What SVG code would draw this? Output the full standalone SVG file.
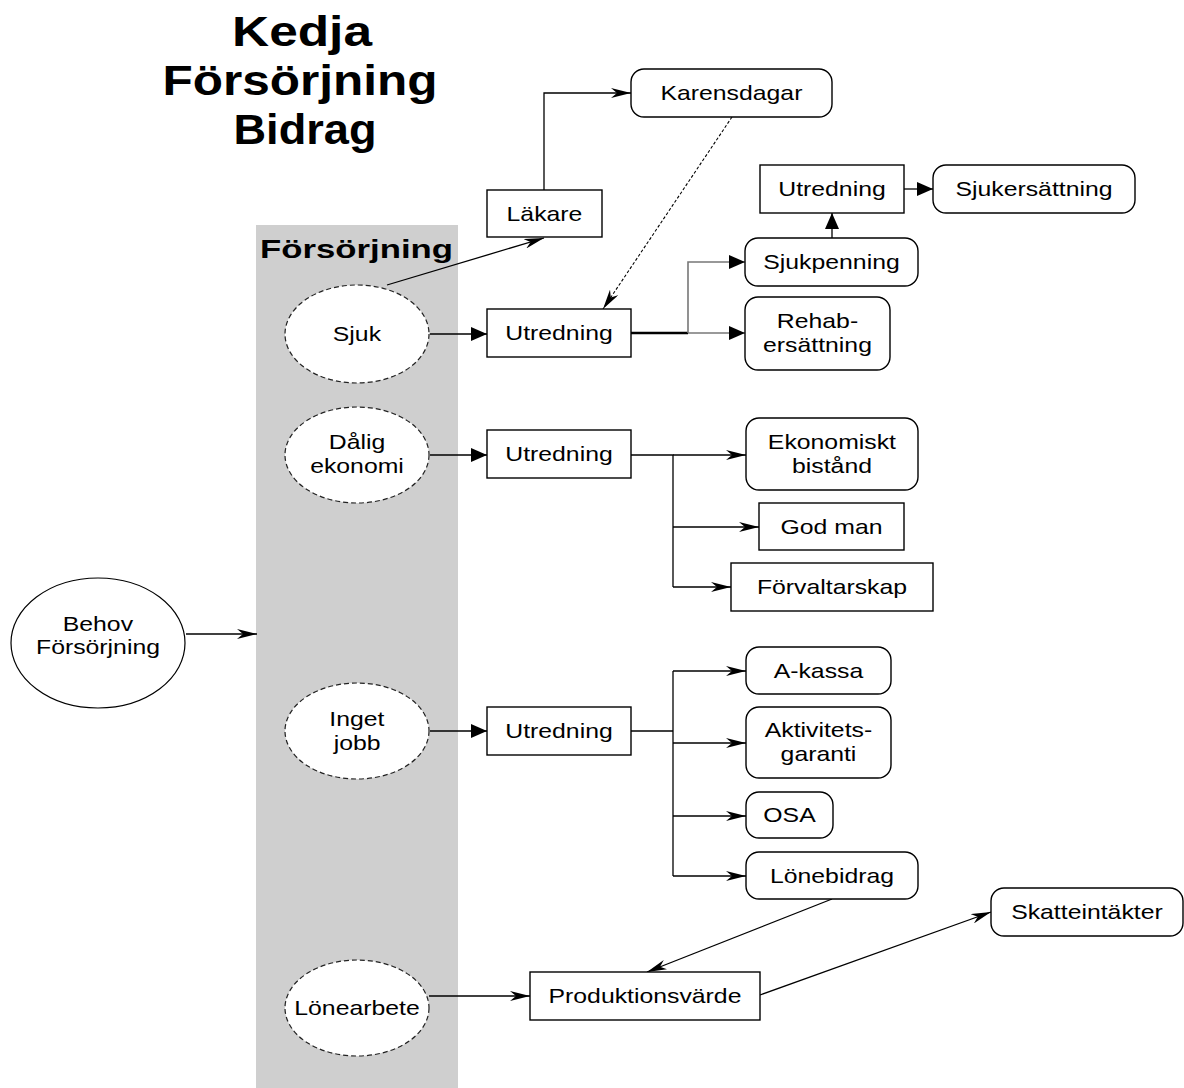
<svg xmlns="http://www.w3.org/2000/svg" width="1184" height="1088" viewBox="0 0 1184 1088">
  <style>
    .lbl { font-family: "Liberation Sans", Arial, sans-serif; font-size: 20px; fill: #000; text-anchor: middle;
           transform-box: fill-box; transform-origin: center; transform: scaleX(1.24); }
    .title { font-family: "Liberation Sans", Arial, sans-serif; font-weight: bold; font-size: 42px; fill: #000; }
    .band-title { font-family: "Liberation Sans", Arial, sans-serif; font-weight: bold; font-size: 26px; fill: #000; }
    .box { fill: #fff; stroke: #000; stroke-width: 1.4; }
    .state { fill: #fff; stroke: #222; stroke-width: 1.2; stroke-dasharray: 5 3; }
    .plain { fill: #fff; stroke: #000; stroke-width: 1.2; }
    .ln { fill: none; stroke: #000; stroke-width: 1.3; }
    .ln-grey { fill: none; stroke: #777; stroke-width: 1.6; }
    .ln-thick { fill: none; stroke: #000; stroke-width: 2.6; }
    .ln-dash { fill: none; stroke: #000; stroke-width: 1.1; stroke-dasharray: 3 2; }
  </style>
  <defs>
    <marker id="tri" markerUnits="userSpaceOnUse" markerWidth="16" markerHeight="14" viewBox="0 0 16 14" refX="16" refY="7" orient="auto">
      <path d="M0,0 L16,7 L0,14 z" fill="#000"/>
    </marker>
    <marker id="stealth" markerUnits="userSpaceOnUse" markerWidth="20" markerHeight="10" viewBox="0 0 20 10" refX="20" refY="5" orient="auto">
      <path d="M0,0 L20,5 L0,10 L6,5 z" fill="#000"/>
    </marker>
  </defs>

  <rect width="1184" height="1088" fill="#fff"/>

  <!-- heading -->
  <g id="heading">
    <text class="title" x="302" y="46" text-anchor="middle" textLength="140" lengthAdjust="spacingAndGlyphs">Kedja</text>
    <text class="title" x="300" y="95" text-anchor="middle" textLength="275" lengthAdjust="spacingAndGlyphs">Försörjning</text>
    <text class="title" x="305" y="144" text-anchor="middle" textLength="143" lengthAdjust="spacingAndGlyphs">Bidrag</text>
  </g>

  <!-- swimlane band -->
  <g id="band">
    <rect x="256" y="225" width="202" height="863" fill="#cfcfcf"/>
    <text class="band-title" x="260" y="258" textLength="193" lengthAdjust="spacingAndGlyphs">Försörjning</text>
  </g>

  <!-- connectors -->
  <g id="connectors">
    <line class="ln" x1="186" y1="634" x2="257" y2="634" marker-end="url(#stealth)"/>
    <line class="ln" x1="387" y1="285" x2="544" y2="238" marker-end="url(#stealth)"/>
    <polyline class="ln" points="544,190 544,93 631,93" marker-end="url(#stealth)"/>
    <line class="ln-dash" x1="732" y1="117" x2="603" y2="309" marker-end="url(#stealth)"/>
    <line class="ln" x1="430" y1="334" x2="487" y2="334" marker-end="url(#tri)"/>
    <line class="ln-thick" x1="631" y1="333" x2="688" y2="333"/>
    <polyline class="ln-grey" points="688,333 688,262 745,262" marker-end="url(#tri)"/>
    <line class="ln-grey" x1="688" y1="333" x2="745" y2="333" marker-end="url(#tri)"/>
    <line class="ln" x1="832" y1="238" x2="832" y2="213" marker-end="url(#tri)"/>
    <line class="ln" x1="904" y1="189" x2="933" y2="189" marker-end="url(#tri)"/>

    <line class="ln" x1="430" y1="455" x2="487" y2="455" marker-end="url(#tri)"/>
    <polyline class="ln" points="631,455 673,455 673,587"/>
    <line class="ln" x1="673" y1="455" x2="746" y2="455" marker-end="url(#stealth)"/>
    <line class="ln" x1="673" y1="527" x2="759" y2="527" marker-end="url(#stealth)"/>
    <line class="ln" x1="673" y1="587" x2="731" y2="587" marker-end="url(#stealth)"/>

    <line class="ln" x1="430" y1="731" x2="487" y2="731" marker-end="url(#tri)"/>
    <line class="ln" x1="631" y1="731" x2="673" y2="731"/>
    <line class="ln" x1="673" y1="671" x2="673" y2="876"/>
    <line class="ln" x1="673" y1="671" x2="746" y2="671" marker-end="url(#stealth)"/>
    <line class="ln" x1="673" y1="743" x2="746" y2="743" marker-end="url(#stealth)"/>
    <line class="ln" x1="673" y1="816" x2="746" y2="816" marker-end="url(#stealth)"/>
    <line class="ln" x1="673" y1="876" x2="746" y2="876" marker-end="url(#stealth)"/>

    <line class="ln" x1="832" y1="899" x2="647" y2="972" marker-end="url(#stealth)"/>
    <line class="ln" x1="429" y1="996" x2="530" y2="996" marker-end="url(#stealth)"/>
    <line class="ln" x1="760" y1="995" x2="991" y2="912" marker-end="url(#stealth)"/>
  </g>

  <!-- start node -->
  <g id="behov">
    <ellipse class="plain" cx="98" cy="643" rx="87" ry="65"/>
    <text class="lbl" x="98" y="631">Behov</text>
    <text class="lbl" x="98" y="654">Försörjning</text>
  </g>

  <!-- states inside the band -->
  <g id="sjuk">
    <ellipse class="state" cx="357" cy="334" rx="72" ry="49"/>
    <text class="lbl" x="357" y="341">Sjuk</text>
  </g>
  <g id="dalig-ekonomi">
    <ellipse class="state" cx="357" cy="455" rx="72" ry="48"/>
    <text class="lbl" x="357" y="449">Dålig</text>
    <text class="lbl" x="357" y="473">ekonomi</text>
  </g>
  <g id="inget-jobb">
    <ellipse class="state" cx="357" cy="731" rx="72" ry="48"/>
    <text class="lbl" x="357" y="726">Inget</text>
    <text class="lbl" x="357" y="750">jobb</text>
  </g>
  <g id="lonearbete">
    <ellipse class="state" cx="357" cy="1008" rx="72" ry="48"/>
    <text class="lbl" x="357" y="1015">Lönearbete</text>
  </g>

  <!-- sickness chain -->
  <g id="lakare">
    <rect class="box" x="487" y="190" width="115" height="47"/>
    <text class="lbl" x="544.5" y="221">Läkare</text>
  </g>
  <g id="karensdagar">
    <rect class="box" x="631" y="69" width="201" height="48" rx="13"/>
    <text class="lbl" x="731.5" y="100">Karensdagar</text>
  </g>
  <g id="utredning-sjuk">
    <rect class="box" x="487" y="309" width="144" height="48"/>
    <text class="lbl" x="559" y="340">Utredning</text>
  </g>
  <g id="sjukpenning">
    <rect class="box" x="745" y="238" width="173" height="48" rx="13"/>
    <text class="lbl" x="831.5" y="269">Sjukpenning</text>
  </g>
  <g id="rehab">
    <rect class="box" x="745" y="297" width="145" height="73" rx="13"/>
    <text class="lbl" x="817.5" y="328">Rehab-</text>
    <text class="lbl" x="817.5" y="352">ersättning</text>
  </g>
  <g id="utredning-sjukersattning">
    <rect class="box" x="760" y="165" width="144" height="48"/>
    <text class="lbl" x="832" y="196">Utredning</text>
  </g>
  <g id="sjukersattning">
    <rect class="box" x="933" y="165" width="202" height="48" rx="13"/>
    <text class="lbl" x="1034" y="196">Sjukersättning</text>
  </g>

  <!-- economy chain -->
  <g id="utredning-ekonomi">
    <rect class="box" x="487" y="430" width="144" height="48"/>
    <text class="lbl" x="559" y="461">Utredning</text>
  </g>
  <g id="ekonomiskt-bistand">
    <rect class="box" x="746" y="418" width="172" height="72" rx="13"/>
    <text class="lbl" x="832" y="449">Ekonomiskt</text>
    <text class="lbl" x="832" y="473">bistånd</text>
  </g>
  <g id="god-man">
    <rect class="box" x="759" y="503" width="145" height="47"/>
    <text class="lbl" x="831.5" y="534">God man</text>
  </g>
  <g id="forvaltarskap">
    <rect class="box" x="731" y="563" width="202" height="48"/>
    <text class="lbl" x="832" y="594">Förvaltarskap</text>
  </g>

  <!-- work chain -->
  <g id="utredning-jobb">
    <rect class="box" x="487" y="707" width="144" height="48"/>
    <text class="lbl" x="559" y="738">Utredning</text>
  </g>
  <g id="a-kassa">
    <rect class="box" x="746" y="647" width="145" height="47" rx="13"/>
    <text class="lbl" x="818.5" y="678">A-kassa</text>
  </g>
  <g id="aktivitetsgaranti">
    <rect class="box" x="746" y="707" width="145" height="71" rx="13"/>
    <text class="lbl" x="818.5" y="737">Aktivitets-</text>
    <text class="lbl" x="818.5" y="761">garanti</text>
  </g>
  <g id="osa">
    <rect class="box" x="746" y="792" width="87" height="46" rx="13"/>
    <text class="lbl" x="789.5" y="822">OSA</text>
  </g>
  <g id="lonebidrag">
    <rect class="box" x="746" y="852" width="172" height="47" rx="13"/>
    <text class="lbl" x="832" y="883">Lönebidrag</text>
  </g>

  <!-- production -->
  <g id="produktionsvarde">
    <rect class="box" x="530" y="972" width="230" height="48"/>
    <text class="lbl" x="645" y="1003">Produktionsvärde</text>
  </g>
  <g id="skatteintakter">
    <rect class="box" x="991" y="888" width="192" height="48" rx="13"/>
    <text class="lbl" x="1087" y="919">Skatteintäkter</text>
  </g>
</svg>
